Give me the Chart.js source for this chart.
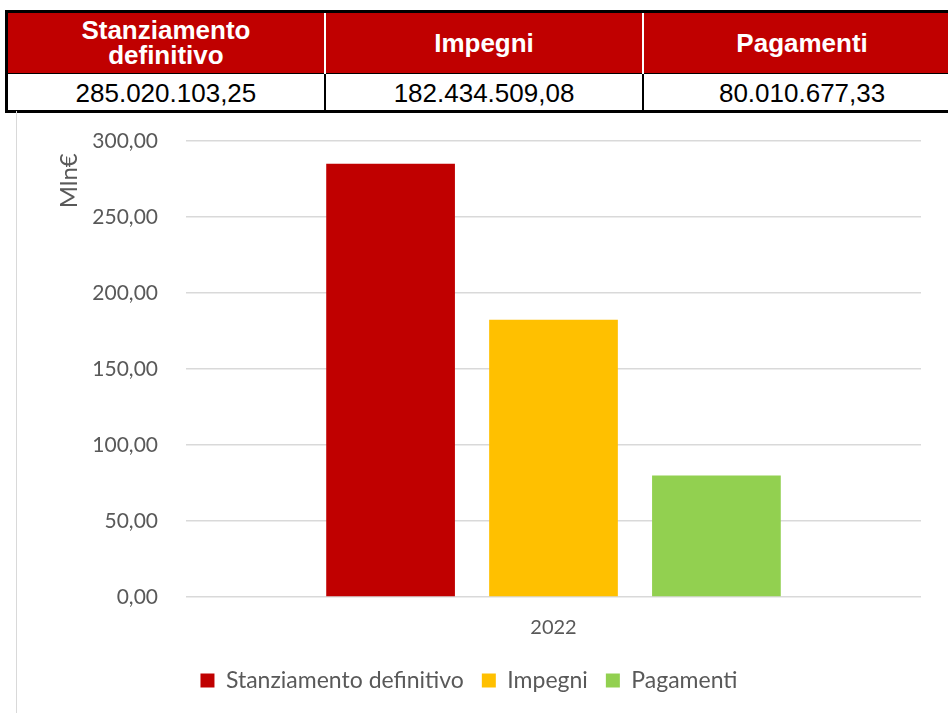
<!DOCTYPE html>
<html>
<head>
<meta charset="utf-8">
<script src="https://cdn.jsdelivr.net/npm/chart.js@4"></script>
<style>
  html, body { margin: 0; padding: 0; background: #fff; overflow: hidden; }
  body { width: 948px; height: 713px; position: relative; }
  #riepilogo {
    position: absolute; left: 5px; top: 10px; width: 958px;
    border-collapse: collapse; border: 3px solid #000;
    font-family: "Liberation Sans", Arial, sans-serif;
    table-layout: fixed;
  }
  #riepilogo th, #riepilogo td { text-align: center; padding: 0; }
  #riepilogo th {
    background: #c00000; color: #fff; font-weight: bold; font-size: 26px;
    line-height: 25px; height: 60px; border-left: 2px solid #fff;
  }
  #riepilogo th:first-child { border-left: none; }
  #riepilogo td {
    font-size: 26px; height: 34px; color: #000; padding-top: 2px;
    border-left: 2px solid #000; border-top: 1px solid #000;
  }
  #riepilogo td:first-child { border-left: none; }
  #box {
    position: absolute; left: 16px; top: 111px; width: 932px; height: 602px;
    border-left: 1px solid #d9d9d9;
  }
</style>
</head>
<body>
<table id="riepilogo">
  <thead><tr id="intestazione"></tr></thead>
  <tbody><tr id="importi"></tr></tbody>
</table>
<div id="box"><canvas id="grafico" width="932" height="602"></canvas></div>
<script>
const voci = ["Stanziamento definitivo", "Impegni", "Pagamenti"];
const importi = [285020103.25, 182434509.08, 80010677.33];
const anni = ["2022"];
const colori = ["#c00000", "#ffc000", "#92d050"];
const tickY = [0, 50, 100, 150, 200, 250, 300];

const fmtEuro = v => v.toLocaleString("it-IT", { minimumFractionDigits: 2, maximumFractionDigits: 2 });

// tabella riepilogativa sopra il grafico
const head = document.getElementById("intestazione");
const row = document.getElementById("importi");
voci.forEach((v, i) => {
  const th = document.createElement("th");
  th.innerHTML = v === "Stanziamento definitivo" ? "Stanziamento<br>definitivo" : v;
  head.appendChild(th);
  const td = document.createElement("td");
  td.textContent = fmtEuro(importi[i]);
  row.appendChild(td);
});

const grigio = "#595959";
const font = "Lato, 'Open Sans', sans-serif";

new Chart(document.getElementById("grafico"), {
  type: "bar",
  data: {
    labels: anni,
    datasets: voci.map((v, i) => ({
      label: v,
      data: [importi[i] / 1e6],
      backgroundColor: colori[i],
      categoryPercentage: 0.665,
      barPercentage: 0.79,
    })),
  },
  options: {
    responsive: false,
    animation: false,
    layout: { padding: { top: 30, right: 28, bottom: 11 } },
    plugins: {
      tooltip: { enabled: false },
      legend: {
        position: "bottom",
        labels: {
          color: grigio, boxWidth: 14, boxHeight: 14, padding: 18,
          font: { family: font, size: 23 },
        },
      },
    },
    scales: {
      x: {
        grid: { display: false },
        border: { display: false },
        ticks: { color: grigio, padding: 11, font: { family: font, size: 20 } },
      },
      y: {
        min: 0, max: 300,
        afterBuildTicks: s => { s.ticks = tickY.map(v => ({ value: v })); },
        afterFit: s => {
          // larghezza fissa dell'asse; niente margine extra sopra e sotto
          s.width = 169;
          s.paddingTop = 0;
          s.paddingBottom = 0;
        },
        grid: { color: "#d9d9d9", lineWidth: 1.5, drawTicks: false },
        border: { display: false },
        ticks: {
          color: grigio, padding: 28, font: { family: font, size: 21 },
          callback: v => fmtEuro(v),
        },
        title: {
          display: true, text: "Mln€  ", align: "end", color: grigio,
          padding: { top: 38, bottom: 0 }, font: { family: font, size: 24 },
        },
      },
    },
  },
});
</script>
</body>
</html>
